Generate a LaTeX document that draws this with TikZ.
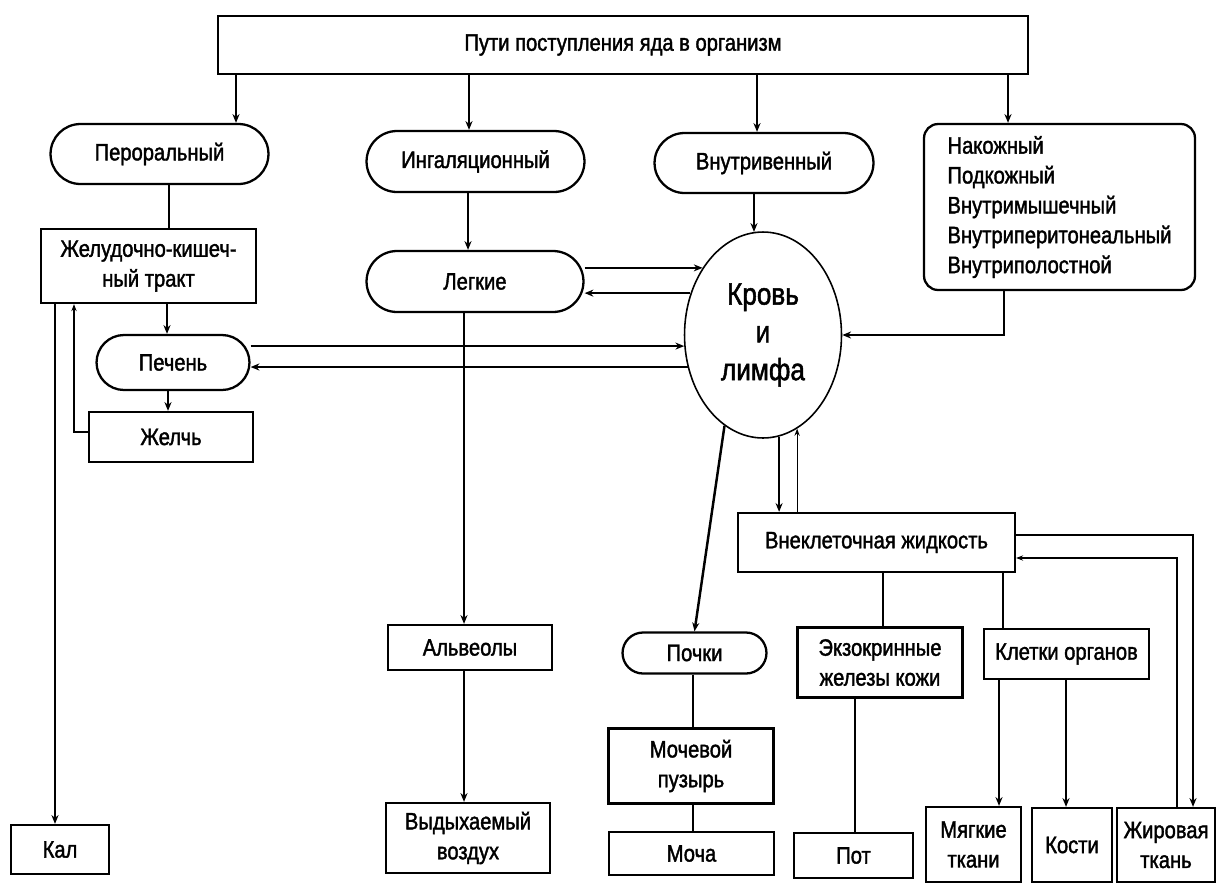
\documentclass[tikz,border=0pt]{standalone}
\usepackage{fontspec}
\setmainfont{Liberation Sans}[FakeStretch=0.85, FakeBold=1.6]
\usepackage{tikz}
\usetikzlibrary{positioning, shapes.misc, shapes.geometric, arrows.meta}

\newcommand{\boxfont}{\fontsize{13.5}{17}\selectfont}
\newcommand{\bloodfont}{\fontsize{17.5}{21.5}\selectfont}

\begin{document}
\begin{tikzpicture}[x=0.02cm, y=-0.02cm,
    box/.style={draw, line width=1.3pt, align=center, font=\boxfont, inner sep=2pt},
    pill/.style={box, rounded rectangle},
    arrow/.style={-{Stealth[length=5pt,width=4pt]}, line width=1.4pt},
    link/.style={line width=1.4pt},
    back/.style={-{Stealth[length=4pt,width=3pt]}, line width=0.6pt},
]
\useasboundingbox (0,0) rectangle (1219,886);

\node[box, minimum width=16.2cm, minimum height=1.16cm] (top) at (623,45)
    {Пути поступления яда в организм};

\node[pill, minimum width=4.5cm, minimum height=1.2cm] (oral) at (159.5,154) {Пероральный};
\node[pill, minimum width=4.5cm, minimum height=1.22cm] (inhal) at (475.5,161.5) {Ингаляционный};
\node[pill, minimum width=4.52cm, minimum height=1.2cm] (iv) at (764,163) {Внутривенный};
\node[box, rounded corners=8pt, align=left, minimum width=5.42cm, minimum height=3.32cm]
    (skin) at (1059.5,207)
    {Накожный\\Подкожный\\Внутримышечный\\Внутриперитонеальный\\Внутриполостной};

\node[box, minimum width=4.3cm, minimum height=1.48cm] (git) at (148.5,266)
    {Желудочно-кишеч-\\ный тракт};
\node[pill, minimum width=4.48cm, minimum height=1.22cm] (lungs) at (475,281.5) {Легкие};
\node[ellipse, draw, line width=0.9pt, minimum width=3.14cm, minimum height=4.12cm,
      inner sep=0pt, align=center, font=\bloodfont] (blood) at (763,335)
    {Кровь\\и\\лимфа};
\node[pill, minimum width=3.2cm, minimum height=1.1cm] (liver) at (173,362.5) {Печень};
\node[box, minimum width=3.28cm, minimum height=1.0cm] (bile) at (171,437) {Желчь};

\node[box, minimum width=5.54cm, minimum height=1.18cm] (ecf) at (876.5,542.5)
    {Внеклеточная жидкость};
\node[box, minimum width=3.28cm, minimum height=0.9cm] (alveoli) at (470,647.5) {Альвеолы};
\node[pill, minimum width=3.02cm, minimum height=0.82cm] (kidney) at (694.5,653) {Почки};
\node[box, minimum width=3.3cm, minimum height=1.4cm] (exo) at (880,662.5)
    {Экзокринные\\железы кожи};
\node[box, minimum width=3.3cm, minimum height=1.0cm] (cells) at (1066.5,654) {Клетки органов};
\node[box, minimum width=3.3cm, minimum height=1.5cm] (bladder) at (691,766)
    {Мочевой\\пузырь};

\node[box, minimum width=1.96cm, minimum height=0.98cm] (feces) at (60,849.5) {Кал};
\node[box, minimum width=3.28cm, minimum height=1.4cm] (exhaled) at (468,838)
    {Выдыхаемый\\воздух};
\node[box, minimum width=3.3cm, minimum height=0.86cm] (urine) at (691.5,853.5) {Моча};
\node[box, minimum width=2.38cm, minimum height=0.9cm] (sweat) at (853.5,855.5) {Пот};
\node[box, minimum width=1.9cm, minimum height=1.5cm] (soft) at (973.5,844.5) {Мягкие\\ткани};
\node[box, minimum width=1.6cm, minimum height=1.48cm] (bone) at (1072,845) {Кости};
\node[box, minimum width=1.96cm, minimum height=1.48cm] (fat) at (1166,845) {Жировая\\ткань};

% routes of entry
\draw[arrow] (top.south -| 236,0) -- (oral.north -| 236,0);
\draw[arrow] (top.south -| 469,0) -- (inhal.north -| 469,0);
\draw[arrow] (top.south -| 757,0) -- (iv.north -| 757,0);
\draw[arrow] (top.south -| 1008,0) -- (skin.north -| 1008,0);

% oral route
\draw[link] (oral.south -| 169,0) -- (git.north -| 169,0);
\draw[arrow] (git.south -| 167,0) -- (liver.north -| 167,0);
\draw[arrow] (liver.south -| 168,0) -- (bile.north -| 168,0);
\draw[back] (bile.west |- 0,432) -| (git.south -| 74,0);
\draw[arrow] (git.south -| 55,0) -- (feces.north -| 55,0);

% inhalation route
\draw[arrow] (inhal.south -| 468,0) -- (lungs.north -| 468,0);
\draw[arrow] (lungs.south -| 464,0) -- (alveoli.north -| 464,0);
\draw[arrow] (alveoli.south -| 464,0) -- (exhaled.north -| 464,0);

% exchange with blood
\draw[arrow] (lungs.east |- blood.132) -- (blood.132);
\draw[arrow] (blood.150) -- (lungs.east |- blood.150);
\draw[arrow] (liver.east |- blood.188) -- (blood.188);
\draw[arrow] (blood.203) -- (liver.east |- blood.203);
\draw[arrow] (iv.south -| blood.95) -- (blood.95);
\draw[arrow] (skin.south -| 1004,0) |- (blood.east);

% blood and tissues
\draw[arrow] (blood.-81) -- (ecf.north -| blood.-81);
\draw[back] (ecf.north -| blood.-70) -- (blood.-70);
\draw[arrow] (blood.-113) -- (kidney.north);
\draw[link] (kidney.south -| 693,0) -- (bladder.north -| 693,0);
\draw[link] (bladder.south -| 693,0) -- (urine.north -| 693,0);
\draw[link] (ecf.south -| 883,0) -- (exo.north -| 883,0);
\draw[link] (ecf.south -| 1003,0) -- (cells.north -| 1003,0);
\draw[link] (exo.south -| 855,0) -- (sweat.north -| 855,0);
\draw[arrow] (cells.south -| 999,0) -- (soft.north -| 999,0);
\draw[arrow] (cells.south -| 1066,0) -- (bone.north -| 1066,0);
\draw[arrow] (ecf.east |- 0,535) -| (fat.north -| 1193,0);
\draw[back] (fat.north -| 1177,0) |- (ecf.east |- 0,558);
\end{tikzpicture}
\end{document}
